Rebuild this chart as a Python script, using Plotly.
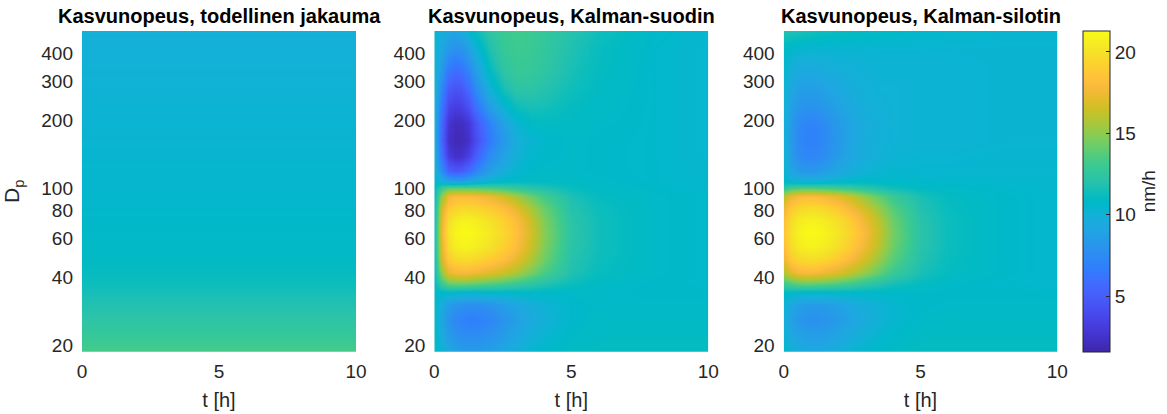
import math
import plotly.graph_objects as go

# ---- data -------------------------------------------------------------
# Time axis [h] and particle diameters [nm] of the estimated grids
t_grid = [0, 0.25, 0.5, 0.75, 1.0, 1.25, 1.5, 2.0, 2.5, 3.0, 3.5, 4.0, 5.0, 6.0, 8.0, 10.0]
dp_grid = [18.7, 22, 26, 30, 34, 38, 42, 48, 55, 63, 72, 82, 92, 100, 108,
           120, 140, 165, 195, 230, 280, 340, 420, 503]

# True growth rate: depends on diameter only
t_true = [0, 10]
dp_true = [18.7, 20, 25, 30, 35, 40, 50, 60, 80, 100, 150, 200, 300, 400, 503]
gr_true = [13.4, 13.1, 12.4, 11.9, 11.5, 11.2, 10.9, 10.8, 10.6, 10.5,
           10.35, 10.25, 10.1, 10.0, 9.9]

# Kalman filter estimate, one row per diameter (bottom to top)
gr_filter = [
    [11.0, 10.2, 9.5, 9.0, 8.7, 8.6, 8.6, 8.9, 9.4, 9.9, 10.4, 10.7, 11.0, 11.1, 11.1, 11.1],
    [10.8, 9.7, 8.6, 8.0, 7.7, 7.6, 7.6, 7.9, 8.6, 9.3, 9.9, 10.3, 10.8, 11.0, 11.0, 11.0],
    [10.7, 9.3, 8.0, 7.3, 7.0, 6.8, 6.8, 7.2, 8.0, 8.8, 9.5, 10.0, 10.6, 10.9, 10.9, 10.9],
    [10.7, 9.5, 8.5, 8.0, 7.8, 7.6, 7.6, 7.9, 8.6, 9.2, 9.7, 10.1, 10.6, 10.8, 10.8, 10.8],
    [10.8, 10.6, 10.5, 10.4, 10.3, 10.3, 10.3, 10.4, 10.5, 10.6, 10.7, 10.7, 10.8, 10.8, 10.7, 10.7],
    [11.0, 13.0, 14.3, 14.5, 14.5, 14.4, 14.2, 13.9, 13.5, 13.0, 12.5, 12.0, 11.3, 10.9, 10.7, 10.6],
    [11.2, 15.0, 17.2, 17.6, 17.7, 17.7, 17.5, 17.0, 16.4, 15.6, 14.5, 13.4, 11.8, 11.2, 10.8, 10.6],
    [11.2, 16.5, 18.8, 19.5, 19.6, 19.6, 19.4, 18.9, 18.2, 17.2, 15.8, 14.3, 12.0, 11.3, 10.8, 10.6],
    [11.3, 17.0, 19.8, 20.6, 20.8, 20.8, 20.6, 20.0, 19.2, 18.1, 16.5, 14.7, 12.2, 11.4, 10.8, 10.6],
    [11.3, 17.3, 20.2, 21.0, 21.2, 21.2, 21.0, 20.4, 19.5, 18.4, 16.8, 14.9, 12.3, 11.4, 10.8, 10.6],
    [11.3, 17.0, 19.8, 20.5, 20.8, 20.8, 20.6, 20.0, 19.2, 18.1, 16.5, 14.7, 12.2, 11.4, 10.8, 10.6],
    [11.2, 16.5, 18.8, 19.3, 19.5, 19.5, 19.4, 18.9, 18.2, 17.2, 15.7, 14.2, 12.0, 11.3, 10.8, 10.6],
    [11.0, 15.0, 17.5, 18.0, 18.0, 18.0, 17.9, 17.4, 16.6, 15.5, 14.3, 13.2, 11.7, 11.1, 10.8, 10.6],
    [10.9, 13.0, 14.0, 14.0, 14.0, 14.0, 13.9, 13.6, 13.2, 12.7, 12.2, 11.8, 11.2, 10.9, 10.7, 10.5],
    [10.8, 9.8, 9.0, 8.7, 8.8, 9.2, 9.7, 10.3, 10.7, 10.9, 11.0, 11.0, 10.9, 10.8, 10.6, 10.5],
    [10.2, 7.8, 5.3, 4.8, 5.0, 5.8, 7.0, 8.8, 9.8, 10.4, 10.7, 10.8, 10.8, 10.7, 10.6, 10.5],
    [10.0, 6.3, 3.2, 2.5, 2.6, 3.4, 5.0, 7.5, 9.0, 10.0, 10.5, 10.7, 10.8, 10.7, 10.6, 10.4],
    [9.8, 5.5, 2.5, 2.0, 2.0, 2.5, 4.0, 6.5, 8.3, 9.8, 10.3, 10.6, 10.8, 10.7, 10.6, 10.4],
    [9.9, 5.8, 2.8, 2.2, 2.3, 2.9, 4.5, 7.0, 8.9, 10.3, 10.9, 11.0, 11.0, 10.8, 10.6, 10.4],
    [10.1, 6.5, 3.8, 3.2, 3.4, 4.3, 6.0, 8.6, 10.3, 11.3, 11.6, 11.5, 11.1, 10.9, 10.6, 10.4],
    [10.2, 7.5, 5.0, 4.5, 4.8, 5.8, 7.5, 10.0, 11.6, 12.3, 12.3, 12.0, 11.4, 11.0, 10.6, 10.4],
    [10.3, 8.5, 6.6, 6.0, 6.3, 7.3, 8.8, 11.0, 12.4, 12.9, 12.8, 12.4, 11.6, 11.1, 10.6, 10.4],
    [10.3, 9.3, 8.3, 7.8, 8.0, 8.9, 10.0, 11.8, 12.8, 13.1, 13.0, 12.6, 11.8, 11.2, 10.6, 10.4],
    [10.4, 9.8, 9.3, 9.2, 9.6, 10.4, 11.2, 12.4, 13.0, 13.2, 13.0, 12.7, 12.0, 11.4, 10.7, 10.4],
]

# Kalman smoother estimate, one row per diameter (bottom to top)
gr_smoother = [
    [10.6, 10.1, 9.8, 9.6, 9.5, 9.5, 9.6, 9.9, 10.3, 10.6, 10.8, 11.0, 11.1, 11.1, 11.1, 11.1],
    [10.2, 9.5, 9.0, 8.8, 8.7, 8.7, 8.8, 9.2, 9.7, 10.1, 10.4, 10.7, 11.0, 11.0, 11.0, 11.0],
    [9.9, 8.9, 8.3, 8.0, 7.8, 7.8, 8.0, 8.5, 9.1, 9.7, 10.1, 10.4, 10.8, 10.9, 10.9, 10.9],
    [10.1, 9.3, 8.8, 8.5, 8.4, 8.4, 8.5, 8.9, 9.4, 9.8, 10.1, 10.4, 10.7, 10.8, 10.8, 10.8],
    [10.8, 10.6, 10.5, 10.4, 10.4, 10.4, 10.4, 10.5, 10.6, 10.6, 10.7, 10.7, 10.7, 10.7, 10.7, 10.7],
    [13.2, 13.8, 14.2, 14.3, 14.3, 14.2, 14.1, 13.7, 13.2, 12.6, 12.1, 11.6, 11.1, 10.8, 10.6, 10.5],
    [15.8, 17.0, 17.6, 17.8, 17.8, 17.7, 17.4, 16.8, 16.0, 15.0, 13.9, 12.9, 11.6, 11.1, 10.7, 10.5],
    [17.4, 18.8, 19.4, 19.6, 19.7, 19.6, 19.4, 18.7, 17.7, 16.5, 15.1, 13.8, 11.9, 11.2, 10.7, 10.5],
    [18.2, 19.7, 20.4, 20.7, 20.8, 20.7, 20.5, 19.8, 18.8, 17.4, 15.9, 14.3, 12.1, 11.3, 10.7, 10.5],
    [18.5, 20.0, 20.8, 21.1, 21.2, 21.1, 20.9, 20.2, 19.2, 17.8, 16.2, 14.5, 12.2, 11.3, 10.7, 10.5],
    [18.2, 19.7, 20.4, 20.7, 20.8, 20.7, 20.5, 19.8, 18.8, 17.4, 15.9, 14.3, 12.1, 11.3, 10.7, 10.5],
    [17.5, 18.8, 19.4, 19.6, 19.7, 19.6, 19.4, 18.7, 17.7, 16.5, 15.1, 13.8, 11.9, 11.2, 10.7, 10.5],
    [16.0, 17.3, 17.8, 18.0, 18.0, 17.9, 17.7, 17.1, 16.2, 15.0, 13.9, 12.9, 11.6, 11.1, 10.7, 10.5],
    [12.5, 13.3, 13.6, 13.7, 13.7, 13.6, 13.5, 13.2, 12.8, 12.3, 11.8, 11.4, 11.0, 10.8, 10.6, 10.5],
    [10.7, 10.3, 10.1, 10.0, 10.0, 10.1, 10.2, 10.4, 10.6, 10.7, 10.7, 10.7, 10.6, 10.6, 10.5, 10.5],
    [10.3, 9.2, 8.6, 8.3, 8.3, 8.4, 8.7, 9.3, 9.8, 10.1, 10.3, 10.4, 10.4, 10.4, 10.4, 10.4],
    [10.1, 8.6, 7.7, 7.3, 7.2, 7.3, 7.7, 8.6, 9.3, 9.8, 10.0, 10.2, 10.3, 10.3, 10.4, 10.4],
    [10.0, 8.4, 7.4, 7.0, 6.9, 7.0, 7.4, 8.4, 9.2, 9.7, 10.0, 10.1, 10.2, 10.2, 10.3, 10.3],
    [10.0, 8.5, 7.6, 7.2, 7.1, 7.2, 7.6, 8.5, 9.2, 9.7, 9.9, 10.1, 10.2, 10.2, 10.3, 10.3],
    [10.1, 8.9, 8.2, 7.9, 7.9, 8.0, 8.3, 9.0, 9.5, 9.9, 10.0, 10.1, 10.2, 10.2, 10.3, 10.3],
    [10.2, 9.4, 8.9, 8.7, 8.7, 8.8, 9.0, 9.4, 9.8, 10.0, 10.1, 10.1, 10.2, 10.2, 10.3, 10.3],
    [10.4, 9.9, 9.6, 9.5, 9.5, 9.6, 9.7, 9.9, 10.0, 10.1, 10.2, 10.2, 10.2, 10.2, 10.3, 10.3],
    [10.8, 10.6, 10.4, 10.3, 10.3, 10.3, 10.3, 10.3, 10.3, 10.3, 10.3, 10.3, 10.3, 10.3, 10.3, 10.3],
    [11.8, 11.8, 11.7, 11.6, 11.5, 11.4, 11.3, 11.2, 11.1, 11.0, 10.9, 10.8, 10.6, 10.5, 10.4, 10.4],
]

titles = ["Kasvunopeus, todellinen jakauma",
          "Kasvunopeus, Kalman-suodin",
          "Kasvunopeus, Kalman-silotin"]
y_ticks = [20, 40, 60, 80, 100, 200, 300, 400]
x_ticks = [0, 5, 10]
c_ticks = [5, 10, 15, 20]
c_min, c_max = 1.6, 21.3

# ---- parula colour map ------------------------------------------------
parula = [
    (0.2422, 0.1504, 0.6603), (0.2504, 0.1650, 0.7076), (0.2578, 0.1818, 0.7511),
    (0.2647, 0.1978, 0.7952), (0.2706, 0.2147, 0.8364), (0.2751, 0.2342, 0.8710),
    (0.2783, 0.2559, 0.8991), (0.2803, 0.2782, 0.9221), (0.2813, 0.3006, 0.9414),
    (0.2810, 0.3228, 0.9579), (0.2795, 0.3447, 0.9717), (0.2760, 0.3667, 0.9829),
    (0.2699, 0.3892, 0.9906), (0.2602, 0.4123, 0.9952), (0.2440, 0.4358, 0.9988),
    (0.2206, 0.4603, 0.9973), (0.1963, 0.4847, 0.9892), (0.1834, 0.5074, 0.9798),
    (0.1786, 0.5289, 0.9682), (0.1764, 0.5499, 0.9520), (0.1687, 0.5703, 0.9359),
    (0.1540, 0.5902, 0.9218), (0.1460, 0.6091, 0.9079), (0.1380, 0.6276, 0.8973),
    (0.1248, 0.6459, 0.8883), (0.1113, 0.6635, 0.8763), (0.0952, 0.6798, 0.8598),
    (0.0689, 0.6948, 0.8394), (0.0297, 0.7082, 0.8163), (0.0036, 0.7203, 0.7917),
    (0.0067, 0.7312, 0.7660), (0.0433, 0.7411, 0.7394), (0.0964, 0.7500, 0.7120),
    (0.1408, 0.7584, 0.6842), (0.1717, 0.7670, 0.6554), (0.1938, 0.7758, 0.6251),
    (0.2161, 0.7843, 0.5923), (0.2470, 0.7918, 0.5567), (0.2906, 0.7973, 0.5188),
    (0.3406, 0.8008, 0.4789), (0.3909, 0.8029, 0.4354), (0.4456, 0.8024, 0.3909),
    (0.5044, 0.7993, 0.3480), (0.5616, 0.7942, 0.3045), (0.6174, 0.7876, 0.2612),
    (0.6720, 0.7793, 0.2227), (0.7242, 0.7698, 0.1910), (0.7738, 0.7598, 0.1646),
    (0.8203, 0.7498, 0.1535), (0.8634, 0.7406, 0.1596), (0.9035, 0.7330, 0.1774),
    (0.9393, 0.7288, 0.2100), (0.9728, 0.7298, 0.2394), (0.9956, 0.7434, 0.2371),
    (0.9970, 0.7659, 0.2199), (0.9952, 0.7893, 0.2028), (0.9892, 0.8136, 0.1885),
    (0.9786, 0.8386, 0.1766), (0.9676, 0.8639, 0.1643), (0.9610, 0.8890, 0.1537),
    (0.9597, 0.9135, 0.1423), (0.9628, 0.9373, 0.1265), (0.9691, 0.9606, 0.1064),
    (0.9769, 0.9839, 0.0805),
]
n = len(parula)
colorscale = [[i / (n - 1), "rgb(%d,%d,%d)" % tuple(round(255 * c) for c in rgb)]
              for i, rgb in enumerate(parula)]

# ---- layout geometry (pixels of a 1167 x 414 canvas) ----------------
W, H = 1167, 414
FONT = "Liberation Sans, Arial, Helvetica, sans-serif"
TXT = "#262626"
panels_px = [(82, 356), (434.3, 708.3), (783.7, 1057.3)]
y_top, y_bot = 31, 351.7
ydom = [1 - y_bot / H, 1 - y_top / H]
y_range = [math.log10(18.7), math.log10(503)]

fig = go.Figure()

datasets = [
    (t_true, dp_true, [[v, v] for v in gr_true]),
    (t_grid, dp_grid, gr_filter),
    (t_grid, dp_grid, gr_smoother),
]
for i, (tx, dy, z) in enumerate(datasets):
    sfx = "" if i == 0 else str(i + 1)
    fig.add_trace(go.Heatmap(
        x=tx, y=dy, z=z, coloraxis="coloraxis", zsmooth="best",
        xaxis="x" + sfx, yaxis="y" + sfx, hoverinfo="skip",
    ))
    x0, x1 = panels_px[i]
    fig.layout["xaxis" + sfx] = dict(
        domain=[x0 / W, x1 / W], anchor="y" + sfx, range=[0, 10], automargin=False,
        tickvals=x_ticks, ticks="", showgrid=False, zeroline=False, showline=False,
        tickfont=dict(size=19, color=TXT, family=FONT), ticklabelstandoff=6,
        title=dict(text="t [h]", font=dict(size=20, color=TXT, family=FONT), standoff=12),
    )
    fig.layout["yaxis" + sfx] = dict(
        domain=ydom, anchor="x" + sfx, type="log", range=y_range, automargin=False,
        tickvals=y_ticks, ticktext=[str(v) for v in y_ticks], ticks="",
        showgrid=False, zeroline=False, showline=False,
        tickfont=dict(size=19, color=TXT, family=FONT), ticklabelstandoff=8,
    )
    fig.add_annotation(
        text="<b>%s</b>" % titles[i], xref="paper", yref="paper",
        x=(x0 + x1) / 2 / W, y=1 - 16 / H, xanchor="center", yanchor="middle",
        showarrow=False, font=dict(size=20, color="black", family=FONT),
    )

fig.layout.yaxis.title = dict(text="D<sub>p</sub>", font=dict(size=21, color=TXT, family=FONT),
                              standoff=15)

fig.update_layout(
    width=W, height=H, margin=dict(l=0, r=0, t=0, b=0, autoexpand=False),
    paper_bgcolor="white", plot_bgcolor="white", showlegend=False,
    coloraxis=dict(
        colorscale=colorscale, cmin=c_min, cmax=c_max,
        colorbar=dict(
            x=1082.7 / W, xanchor="left", y=ydom[0], yanchor="bottom",
            len=(y_bot - y_top) / H, lenmode="fraction", thickness=27,
            thicknessmode="pixels", outlinewidth=1, outlinecolor=TXT,
            tickvals=c_ticks, ticks="inside", ticklen=4, tickcolor=TXT,
            tickfont=dict(size=19, color=TXT, family=FONT),
            title=dict(text="nm/h", side="right", font=dict(size=19, color=TXT, family=FONT)),
            xpad=0, ypad=0,
        ),
    ),
)

fig.write_html("out.html")
